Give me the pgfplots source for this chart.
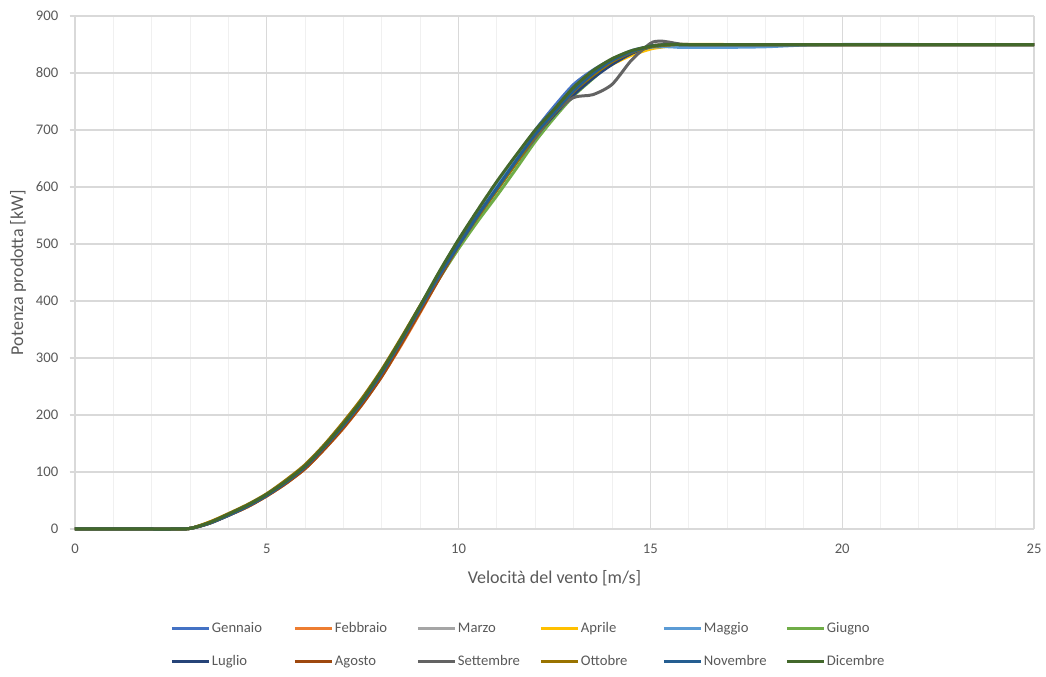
\documentclass[border=0pt]{standalone}
\usepackage{pgfplots}
\pgfplotsset{compat=1.18}
\usepackage{pgfplotstable}
\usepackage{fontspec}
\setmainfont{Carlito}
\definecolor{cGen}{HTML}{4472C4}
\definecolor{cFeb}{HTML}{ED7D31}
\definecolor{cMar}{HTML}{A5A5A5}
\definecolor{cApr}{HTML}{FFC000}
\definecolor{cMag}{HTML}{5B9BD5}
\definecolor{cGiu}{HTML}{70AD47}
\definecolor{cLug}{HTML}{264478}
\definecolor{cAgo}{HTML}{9E480E}
\definecolor{cSet}{HTML}{636363}
\definecolor{cOtt}{HTML}{997300}
\definecolor{cNov}{HTML}{255E91}
\definecolor{cDic}{HTML}{43682B}
\definecolor{txt}{HTML}{595959}
\definecolor{gmaj}{HTML}{D9D9D9}
\definecolor{gmin}{HTML}{F0F0F0}

\pgfplotstableread{
x     Gen Feb Mar Apr Mag Giu Lug Ago Set Ott Nov Dic
0     0   0   0   0   0   0   0   0   0   0   0   0
1     0   0   0   0   0   0   0   0   0   0   0   0
2     0   0   0   0   0   0   0   0   0   0   0   0
2.5   0   0   0   0   0   0   0   0   0   0   0   0
3     1   1   1   1   1   1   1   1   1   1   1   1
3.5   11  10  11  12  11  11  10  10  11  12  10  11
4     25  24  25  26  25  25  24  24  25  27  24  26
4.5   41  39  41  42  41  41  40  39  41  43  40  42
5     60  58  60  61  60  60  59  58  60  62  59  61
5.5   83  80  83  84  83  83  82  80  83  86  82  84
6     110 106 110 111 110 110 109 106 110 113 109 111
6.5   145 140 145 146 145 145 144 140 145 148 144 146
7     183 177 183 185 183 183 182 178 183 188 182 185
7.5   226 220 225 228 226 226 225 220 226 231 225 228
8     275 268 274 278 275 275 274 268 275 280 274 278
8.5   330 322 329 333 331 329 330 324 330 335 330 333
9     388 380 387 391 390 386 388 382 387 392 388 392
9.5   447 440 445 448 450 440 446 440 444 447 446 452
10    503 497 500 503 507 492 500 497 498 500 498 508
10.5  555 548 550 552 558 540 550 548 548 548 550 560
11    603 597 598 600 605 585 597 596 595 595 598 610
11.5  652 645 645 647 651 632 644 644 642 642 646 656
12    700 690 690 693 695 680 688 690 686 690 692 700
12.5  742 730 730 735 732 722 727 731 730 730 731 737
13    780 768 768 772 768 760 762 768 757 768 769 775
13.5  805 797 797 796 797 790 791 797 762 796 799 804
14    824 821 821 815 822 818 815 820 780 820 822 825
14.5  839 837 837 831 836 836 834 837 822 836 837 839
15    847 847 847 842 845 846 846 847 852 846 847 847
15.25 849 849 849 845 846 848 848 849 856 848 849 849
15.5  850 850 850 847 846 850 850 850 854 849 850 850
15.75 850 850 850 849 845 850 850 850 851 850 850 850
16    850 850 850 850 845 850 850 850 850 850 850 850
17    850 850 850 850 845 850 850 850 850 850 850 850
18    850 850 850 850 846 850 850 850 850 850 850 850
19    850 850 850 850 849 850 850 850 850 850 850 850
20    850 850 850 850 850 850 850 850 850 850 850 850
22    850 850 850 850 850 850 850 850 850 850 850 850
25    850 850 850 850 850 850 850 850 850 850 850 850
}\datatab

\begin{document}
\begin{tikzpicture}
\useasboundingbox (-56.25pt,-111pt) rectangle (728.25pt,396.75pt);
\begin{axis}[
  scale only axis,
  width=719.25pt, height=384.75pt,
  xmin=0, xmax=25, ymin=0, ymax=900,
  xtick={0,5,...,25}, ytick={0,100,...,900},
  minor x tick num=4,
  grid=both,
  major grid style={draw=gmaj, line width=0.8pt},
  minor grid style={draw=gmin, line width=0.8pt},
  axis x line*=bottom, axis y line*=left,
  axis line style={-, draw=gmaj, line width=0.8pt},
  tick align=outside,
  major tick length=4pt, minor tick length=0pt,
  x tick style={draw=none},
  y tick style={draw=gmaj, line width=0.8pt},
  /pgf/number format/assume math mode=true,
  ticklabel style={font=\fontsize{11}{13}\selectfont, text=txt},
  yticklabel style={xshift=-5pt},
  xticklabel style={yshift=-4pt},
  every axis x label/.style={at={(axis description cs:0.5,0)}, anchor=center, yshift=-36.75pt},
  every axis y label/.style={at={(axis description cs:-0.0594,0.5)}, anchor=center, rotate=90},
  label style={font=\fontsize{13.5}{15}\selectfont, text=txt},
  xlabel={Velocità del vento [m/s]},
  ylabel={Potenza prodotta [kW]},
  clip=false,
  legend columns=6,
  legend image code/.code={\draw[#1] (0pt,0pt) -- (28pt,0pt);},
  legend style={draw=none, fill=none, inner sep=0pt,
    at={(axis description cs:0.0991,-0.1754)}, anchor=north west,
    font=\fontsize{11}{13}\selectfont, text=txt,
    nodes={inner xsep=1pt, inner ysep=2pt, text height=8pt, text depth=2.5pt},
    /tikz/every even column/.append style={column sep=0pt},
    row sep=10.25pt},
  every axis plot/.append style={line width=2.25pt, smooth, tension=0.45},
]
\addplot[cGen] table[x=x,y=Gen]{\datatab}; \addlegendentry{\makebox[60pt][l]{Gennaio}}
\addplot[cFeb] table[x=x,y=Feb]{\datatab}; \addlegendentry{\makebox[60pt][l]{Febbraio}}
\addplot[cMar] table[x=x,y=Mar]{\datatab}; \addlegendentry{\makebox[60pt][l]{Marzo}}
\addplot[cApr] table[x=x,y=Apr]{\datatab}; \addlegendentry{\makebox[60pt][l]{Aprile}}
\addplot[cMag] table[x=x,y=Mag]{\datatab}; \addlegendentry{\makebox[60pt][l]{Maggio}}
\addplot[cGiu] table[x=x,y=Giu]{\datatab}; \addlegendentry{\makebox[60pt][l]{Giugno}}
\addplot[cLug] table[x=x,y=Lug]{\datatab}; \addlegendentry{\makebox[60pt][l]{Luglio}}
\addplot[cAgo] table[x=x,y=Ago]{\datatab}; \addlegendentry{\makebox[60pt][l]{Agosto}}
\addplot[cSet] table[x=x,y=Set]{\datatab}; \addlegendentry{\makebox[60pt][l]{Settembre}}
\addplot[cOtt] table[x=x,y=Ott]{\datatab}; \addlegendentry{\makebox[60pt][l]{Ottobre}}
\addplot[cNov] table[x=x,y=Nov]{\datatab}; \addlegendentry{\makebox[60pt][l]{Novembre}}
\addplot[cDic] table[x=x,y=Dic]{\datatab}; \addlegendentry{\makebox[60pt][l]{Dicembre}}
\end{axis}
\end{tikzpicture}
\end{document}
